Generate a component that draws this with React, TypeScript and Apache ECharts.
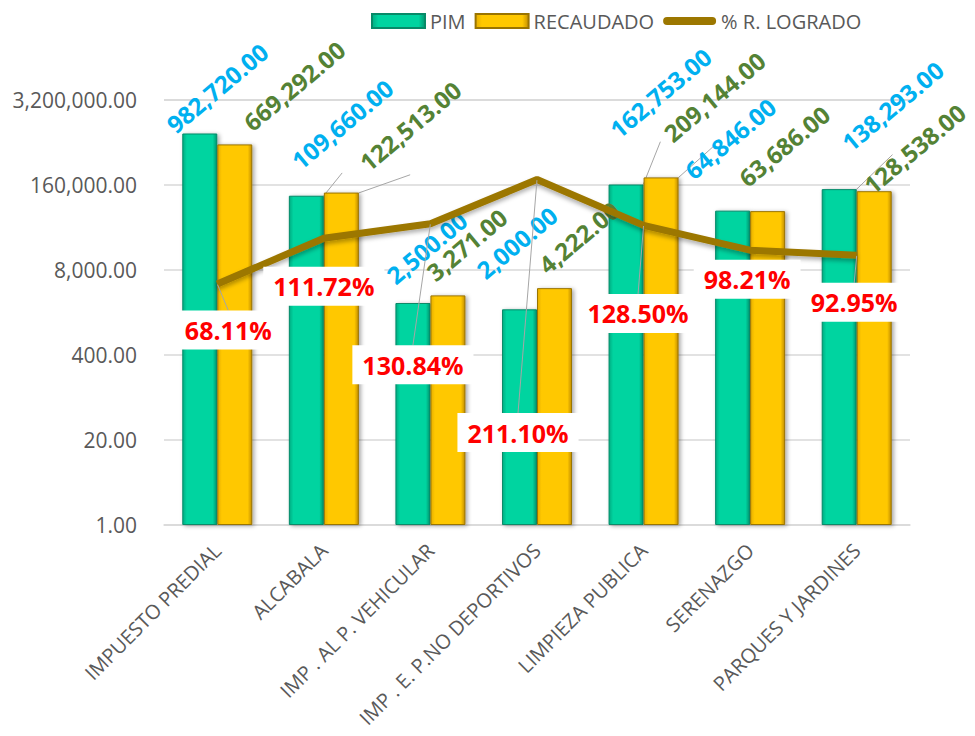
import React, { useEffect, useRef } from 'react';
import * as echarts from 'echarts';

const categories = [
  'IMPUESTO PREDIAL',
  'ALCABALA',
  'IMP . AL P. VEHICULAR',
  'IMP . E. P.NO DEPORTIVOS',
  'LIMPIEZA PUBLICA',
  'SERENAZGO',
  'PARQUES Y JARDINES',
];
const pimValues = [982720, 109660, 2500, 2000, 162753, 64846, 138293];
const recaudadoValues = [669292, 122513, 3271, 4222, 209144, 63686, 128538];
const logradoValues = [68.11, 111.72, 130.84, 211.1, 128.5, 98.21, 92.95];
const seriesNames = ['PIM', 'RECAUDADO', '% R. LOGRADO'];

// label placement (screen offsets from default anchors) and leader-line flags
const pimOffsets = [[-30, -6], [-11.5, -32], [-23, -24.5], [-39.5, -36], [-13, -52], [-44.5, -37], [6, -43.7]];
const recOffsets = [[12, -19], [21.5, -27], [-18, -20], [-12.5, -20], [6, -41], [-25.5, -30], [-7, -3]];
const pctOffsets = [[11, 46], [0, 48], [-17.5, 141], [-19, 253], [-5.5, 88], [-3, 29], [-2.5, 47]];
const pimLeader = [false, true, false, false, true, false, true];
const recLeader = [false, true, false, false, true, false, false];
const pctLeader = [true, false, true, true, true, false, true];
const LABEL_ROTATE = 40;

const FONT = '"Open Sans", "Noto Sans", sans-serif';
const fmt2 = (v: number) =>
  Math.round(v).toLocaleString('en-US', { minimumFractionDigits: 2, maximumFractionDigits: 2 });

// label dx/dy are applied in the rotated frame of the label: convert screen offsets
const toLocal = (o: number[]) => {
  const a = (LABEL_ROTATE * Math.PI) / 180;
  const c = Math.cos(a);
  const s = Math.sin(a);
  return { dx: o[0] * c - o[1] * s, dy: o[0] * s + o[1] * c };
};

export default function App() {
  const ref = useRef<HTMLDivElement>(null);
  useEffect(() => {
    if (!ref.current) return;
    const chart = echarts.init(ref.current, undefined, { renderer: 'svg' });
    const greenGrad = new echarts.graphic.LinearGradient(0, 0, 1, 0, [
      { offset: 0, color: '#00ad82' },
      { offset: 0.12, color: '#00d4a0' },
      { offset: 0.88, color: '#00d4a0' },
      { offset: 1, color: '#009670' },
    ]);
    const yellowGrad = new echarts.graphic.LinearGradient(0, 0, 1, 0, [
      { offset: 0, color: '#e6ae00' },
      { offset: 0.12, color: '#ffc800' },
      { offset: 0.88, color: '#ffc800' },
      { offset: 1, color: '#c48f00' },
    ]);
    const lineColor = '#9c7700';
    const valueLabel = (color: string) => ({
      show: true,
      position: 'top',
      distance: 0,
      rotate: LABEL_ROTATE,
      align: 'left',
      verticalAlign: 'middle',
      fontFamily: FONT,
      fontSize: 24,
      fontWeight: 'bold',
      color,
      formatter: (p: any) => fmt2(p.value),
    });
    const leaderStyle = { show: true, lineStyle: { color: '#a6a6a6', width: 1 } };
    chart.setOption({
      animation: false,
      textStyle: { fontFamily: FONT },
      legend: {
        left: 366,
        top: 6,
        itemWidth: 53,
        itemHeight: 14,
        itemGap: 9,
        textStyle: { fontSize: 20, color: '#595959', fontFamily: FONT },
        data: [
          { name: seriesNames[0], icon: 'rect' },
          { name: seriesNames[1], icon: 'rect' },
          {
            name: seriesNames[2],
            icon: 'path://M4,0 L50,0 A4,4,0,0,1,50,8 L4,8 A4,4,0,0,1,4,0 Z',
            itemStyle: { color: lineColor, borderWidth: 0 },
          },
        ],
      },
      grid: { left: 164, right: 65, top: 100, bottom: 211, outerBoundsMode: 'none', containLabel: false },
      xAxis: {
        type: 'category',
        data: categories,
        axisTick: { show: false },
        axisLine: { lineStyle: { color: '#d9d9d9', width: 1.5 } },
        axisLabel: {
          rotate: 45,
          interval: 0,
          margin: 22,
          fontSize: 20,
          color: '#595959',
          fontFamily: FONT,
        },
      },
      yAxis: [
        {
          type: 'log',
          logBase: 20,
          min: 1,
          max: 3200000,
          splitNumber: 5,
          axisLine: { show: false },
          axisTick: { show: false },
          splitLine: { lineStyle: { color: '#d9d9d9', width: 1.5 } },
          axisLabel: {
            fontSize: 21,
            color: '#595959',
            margin: 27,
            fontFamily: FONT,
            formatter: (v: number) => fmt2(v),
          },
        },
        {
          type: 'log',
          logBase: 10,
          min: 5,
          max: 500,
          show: false,
          splitLine: { show: false },
        },
      ],
      series: [
        {
          name: seriesNames[0],
          type: 'bar',
          barWidth: 35,
          barGap: '0%',
          itemStyle: {
            color: greenGrad,
            borderColor: '#078a68',
            borderWidth: 1,
            shadowColor: 'rgba(0,0,0,0.35)',
            shadowBlur: 4,
            shadowOffsetX: 2,
            shadowOffsetY: 1,
          },
          data: pimValues.map((v, i) => ({
            value: v,
            labelLine: pimLeader[i] ? leaderStyle : { show: false },
          })),
          label: valueLabel('#00b0f0'),
          labelLine: { show: false },
          labelLayout: (p: any) => toLocal(pimOffsets[p.dataIndex]),
        },
        {
          name: seriesNames[1],
          type: 'bar',
          barWidth: 35,
          barGap: '0%',
          itemStyle: {
            color: yellowGrad,
            borderColor: '#9a7400',
            borderWidth: 1,
            shadowColor: 'rgba(0,0,0,0.35)',
            shadowBlur: 4,
            shadowOffsetX: 2,
            shadowOffsetY: 1,
          },
          data: recaudadoValues.map((v, i) => ({
            value: v,
            labelLine: recLeader[i] ? leaderStyle : { show: false },
          })),
          label: valueLabel('#548235'),
          labelLine: { show: false },
          labelLayout: (p: any) => toLocal(recOffsets[p.dataIndex]),
        },
        {
          name: seriesNames[2],
          type: 'line',
          yAxisIndex: 1,
          z: 5,
          symbol: 'none',
          lineStyle: {
            color: lineColor,
            width: 7,
            shadowColor: 'rgba(0,0,0,0.3)',
            shadowBlur: 4,
            shadowOffsetY: 3,
          },
          itemStyle: { color: lineColor },
          data: logradoValues.map((v, i) => ({
            value: v,
            symbol: 'circle',
            symbolSize: 1,
            labelLine: pctLeader[i] ? leaderStyle : { show: false },
          })),
          label: {
            show: true,
            position: 'inside',
            fontFamily: FONT,
            fontSize: 25,
            fontWeight: 'bold',
            color: '#ff0000',
            backgroundColor: '#ffffff',
            padding: [7, 10],
            formatter: (p: any) => p.value.toFixed(2) + '%',
          },
          labelLine: { show: false },
          labelLayout: (p: any) => ({ dx: pctOffsets[p.dataIndex][0], dy: pctOffsets[p.dataIndex][1] }),
        },
      ],
    });
    return () => chart.dispose();
  }, []);
  return (
    <div
      ref={ref}
      style={{ position: 'fixed', left: 0, top: 0, width: 975, height: 736, background: '#fff' }}
    />
  );
}
